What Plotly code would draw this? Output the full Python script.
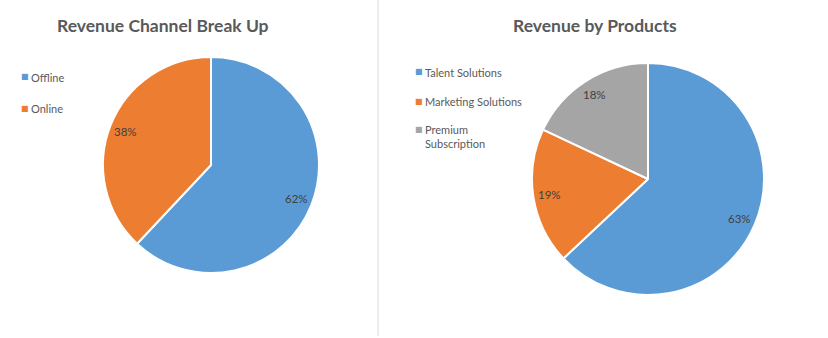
import math
import plotly.graph_objects as go

W, H = 828, 338

# Chart data
channel_title = "Revenue Channel Break Up"
channel_labels = ["Offline", "Online"]
channel_values = [62, 38]

product_title = "Revenue by Products"
product_labels = ["Talent Solutions", "Marketing Solutions", "Premium Subscription"]
product_legend_text = ["Talent Solutions", "Marketing Solutions", "Premium<br>Subscription"]
product_values = [63, 19, 18]

# Styling
channel_colors = ["#5B9BD5", "#ED7D31"]
product_colors = ["#5B9BD5", "#ED7D31", "#A5A5A5"]
FONT = "Lato"
TITLE_COLOR = "#595959"
LEGEND_COLOR = "#595959"
LABEL_COLOR = "#404040"


def fx(x):
    return x / W


def fy(y):
    return 1 - y / H


def pie_domain(cx, cy, r):
    return dict(x=[fx(cx - r), fx(cx + r)], y=[fy(cy + r), fy(cy - r)])


def percent_annotations(values, cx, cy, r, k):
    total = sum(values)
    out = []
    cum = 0
    for v in values:
        mid = (cum + v / 2) / total
        cum += v
        theta = 2 * math.pi * mid
        x = cx + k * r * math.sin(theta)
        y = cy - k * r * math.cos(theta)
        out.append(dict(
            x=fx(x), y=fy(y), xref="paper", yref="paper",
            text=f"{round(100 * v / total)}%", showarrow=False,
            xanchor="center", yanchor="middle",
            font=dict(family=FONT, size=11.5, color=LABEL_COLOR),
        ))
    return out


def legend_annotations(texts, colors, x0, ys):
    out = []
    for t, c, y in zip(texts, colors, ys):
        out.append(dict(
            x=fx(x0), y=fy(y), xref="paper", yref="paper", text="■",
            showarrow=False, xanchor="center", yanchor="middle",
            font=dict(family="DejaVu Sans", size=8, color=c),
        ))
        out.append(dict(
            x=fx(x0 + 4), y=fy(y - 8), xref="paper", yref="paper", text=t,
            showarrow=False, xanchor="left", yanchor="top", align="left",
            font=dict(family=FONT, size=11, color=LEGEND_COLOR),
        ))
    return out


L_CX, L_CY, L_R = 211, 165, 108
R_CX, R_CY, R_R = 648, 179, 116

fig = go.Figure()
fig.add_trace(go.Pie(
    labels=channel_labels, values=channel_values, sort=False,
    direction="clockwise", rotation=0, textinfo="none",
    marker=dict(colors=channel_colors, line=dict(color="white", width=2)),
    domain=pie_domain(L_CX, L_CY, L_R), showlegend=False,
))
fig.add_trace(go.Pie(
    labels=product_labels, values=product_values, sort=False,
    direction="clockwise", rotation=0, textinfo="none",
    marker=dict(colors=product_colors, line=dict(color="white", width=2)),
    domain=pie_domain(R_CX, R_CY, R_R), showlegend=False,
))

annotations = []
annotations.append(dict(
    x=fx(163), y=fy(25), xref="paper", yref="paper", text=f"<b>{channel_title}</b>",
    showarrow=False, xanchor="center", yanchor="middle",
    font=dict(family=FONT, size=17.5, color=TITLE_COLOR),
))
annotations.append(dict(
    x=fx(595), y=fy(26), xref="paper", yref="paper", text=f"<b>{product_title}</b>",
    showarrow=False, xanchor="center", yanchor="middle",
    font=dict(family=FONT, size=17.5, color=TITLE_COLOR),
))
annotations += percent_annotations(channel_values, L_CX, L_CY, L_R, 0.85)
annotations += percent_annotations(product_values, R_CX, R_CY, R_R, 0.86)
annotations += legend_annotations(channel_labels, channel_colors, 25, [77, 108])
annotations += legend_annotations(product_legend_text, product_colors, 419, [72, 101, 129])

fig.update_layout(
    width=W, height=H,
    margin=dict(l=0, r=0, t=0, b=0),
    paper_bgcolor="white", plot_bgcolor="white",
    annotations=annotations,
    shapes=[dict(type="line", xref="paper", yref="paper",
                 x0=fx(378), x1=fx(378), y0=fy(0), y1=fy(336),
                 line=dict(color="#D9D9D9", width=1))],
)

fig.write_html("out.html")
